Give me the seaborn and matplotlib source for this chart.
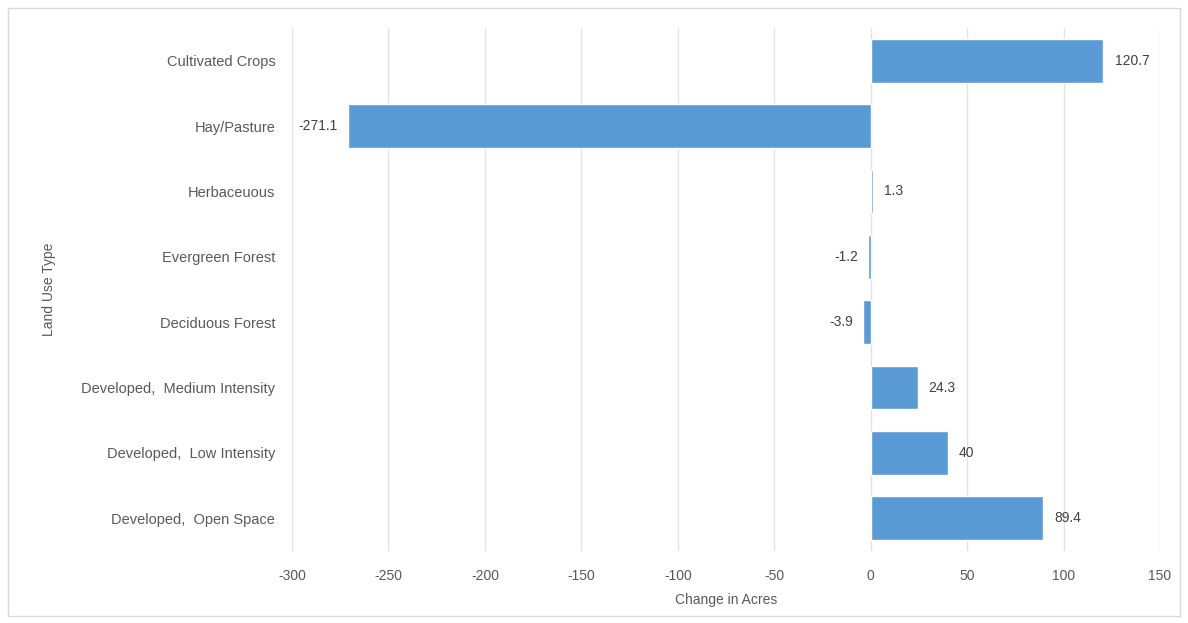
import matplotlib
matplotlib.use("Agg")
import matplotlib.pyplot as plt
import seaborn as sns
import pandas as pd
from matplotlib.patches import Rectangle

categories = ["Cultivated Crops", "Hay/Pasture", "Herbaceuous", "Evergreen Forest",
              "Deciduous Forest", "Developed,  Medium Intensity",
              "Developed,  Low Intensity", "Developed,  Open Space"]
values = [120.7, -271.1, 1.3, -1.2, -3.9, 24.3, 40, 89.4]
value_labels = ["120.7", "-271.1", "1.3", "-1.2", "-3.9", "24.3", "40", "89.4"]
xticks = [-300, -250, -200, -150, -100, -50, 0, 50, 100, 150]

sns.set_theme(style="white")
plt.rcParams['font.family'] = ['Liberation Sans', 'DejaVu Sans']
txt = "#595959"

df = pd.DataFrame({"cat": categories, "val": values})
fig = plt.figure(figsize=(11.88, 6.23), dpi=100)
ax = fig.add_axes([0.2458, 0.1156, 0.7306, 0.8394])
sns.barplot(data=df, x="val", y="cat", orient="h", color="#5B9BD5",
            saturation=1, width=0.67, ax=ax)
ax.set_xlim(-300, 150)
ax.set_xticks(xticks)
ax.set_xticklabels([str(t) for t in xticks], color=txt, fontsize=10)
ax.tick_params(axis="y", labelsize=10.5, labelcolor=txt, length=0, pad=12)
ax.tick_params(axis="x", length=0, pad=13)
ax.xaxis.grid(True, color="#e3e3e3", linewidth=1)
ax.set_axisbelow(True)
for s in ax.spines.values():
    s.set_visible(False)
ax.set_xlabel("Change in Acres", color=txt, fontsize=10, labelpad=7)
ax.set_ylabel("Land Use Type", color=txt, fontsize=10, labelpad=18)

for i, (v, lab) in enumerate(zip(values, value_labels)):
    if v >= 0:
        ax.annotate(lab, (v, i), xytext=(8, 0), textcoords="offset points",
                    ha="left", va="center", fontsize=10, color="#404040")
    else:
        ax.annotate(lab, (v, i), xytext=(-7, 0), textcoords="offset points",
                    ha="right", va="center", fontsize=10, color="#404040")

fig.patches.append(Rectangle((0.007, 0.012), 0.986, 0.975, transform=fig.transFigure,
                             fill=False, edgecolor="#d9d9d9", linewidth=1))
fig.savefig("out.png", dpi=100, facecolor="white")
